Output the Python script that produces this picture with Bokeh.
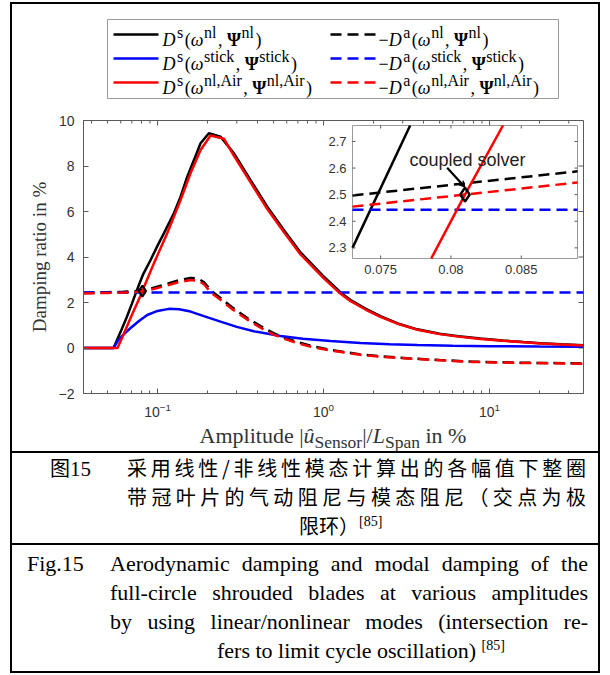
import numpy as np
from bokeh.plotting import figure
from bokeh.models import Range1d, LinearScale, FixedTicker, Label, Arrow, VeeHead, Div, Spacer
from bokeh.layouts import column, row
from bokeh.core.properties import value
from bokeh.embed import file_html
from bokeh.resources import INLINE

# ---------------- data ----------------
X_DS_NL = [0.0358, 0.0543, 0.0600, 0.0650, 0.0700, 0.0730, 0.0771, 0.0820, 0.0908, 0.1000,
           0.1091, 0.1254, 0.1376, 0.1510, 0.1656, 0.1816, 0.2037, 0.2395, 0.2880, 0.3633,
           0.4580, 0.5765, 0.7265, 1.000, 1.266, 1.455, 1.80, 2.20, 2.80, 3.67,
           5.0, 6.5, 8.83, 12.0, 16.0, 20.3, 27.0, 36.8]
Y_DS_NL = [0.0, 0.0, 0.72, 1.33, 1.94, 2.30, 2.76, 3.25, 3.87, 4.50,
           5.04, 5.92, 6.65, 7.53, 8.26, 9.00, 9.44, 9.29, 8.56, 7.38,
           6.21, 5.19, 4.20, 3.15, 2.44, 2.11, 1.72, 1.40, 1.08, 0.82,
           0.63, 0.52, 0.42, 0.33, 0.26, 0.21, 0.16, 0.12]

X_DS_AIR = [0.0358, 0.0574, 0.0620, 0.0700, 0.0786, 0.0810, 0.0837, 0.0950, 0.1143, 0.1376,
            0.1580, 0.1816, 0.2086, 0.2509, 0.2880, 0.3633, 0.4580, 0.5765, 0.7265, 1.000,
            1.266, 1.455, 1.80, 2.20, 2.80, 3.67, 5.0, 6.5, 8.83, 12.0,
            16.0, 20.3, 27.0, 36.8]
Y_DS_AIR = [0.0, 0.0, 0.55, 1.45, 2.26, 2.50, 2.76, 3.72, 5.04, 6.50,
            7.68, 8.70, 9.34, 9.20, 8.46, 7.28, 6.11, 5.10, 4.11, 3.07,
            2.38, 2.06, 1.68, 1.37, 1.06, 0.80, 0.61, 0.50, 0.40, 0.32,
            0.25, 0.20, 0.15, 0.11]

X_DS_STICK = [0.0358, 0.0543, 0.0580, 0.0625, 0.0688, 0.0776, 0.0867, 0.1000, 0.1170, 0.1350,
              0.1580, 0.1900, 0.2395, 0.3000, 0.3800, 0.5500, 0.7500, 1.100, 1.670, 2.500,
              3.670, 6.00, 10.0, 20.0, 36.8]
Y_DS_STICK = [0.0, 0.0, 0.35, 0.60, 0.88, 1.20, 1.45, 1.63, 1.72, 1.70,
              1.60, 1.40, 1.16, 0.93, 0.74, 0.53, 0.41, 0.31, 0.22, 0.16,
              0.13, 0.10, 0.08, 0.065, 0.055]

X_DA = [0.0358, 0.0500, 0.0620, 0.0730, 0.0894, 0.1091, 0.1300, 0.1580, 0.1750, 0.1900,
        0.2100, 0.2395, 0.2800, 0.3470, 0.4200, 0.5000, 0.6000, 0.6940, 0.8500, 1.100,
        1.400, 1.670, 2.200, 3.200, 5.000, 8.000, 14.00, 22.00, 36.8]
Y_DA_NL = [2.43, 2.455, 2.47, 2.497, 2.59, 2.77, 2.95, 3.08, 3.05, 2.90,
           2.52, 2.20, 1.80, 1.32, 0.95, 0.65, 0.42, 0.27, 0.08, -0.08,
           -0.20, -0.28, -0.36, -0.45, -0.53, -0.60, -0.64, -0.66, -0.68]
Y_DA_AIR = [2.40, 2.42, 2.435, 2.455, 2.548, 2.71, 2.87, 2.99, 2.96, 2.81,
            2.43, 2.12, 1.72, 1.25, 0.88, 0.59, 0.37, 0.22, 0.04, -0.11,
            -0.22, -0.30, -0.38, -0.46, -0.54, -0.61, -0.65, -0.67, -0.69]

X_DA_STICK = [0.0358, 36.8]
Y_DA_STICK = [2.443, 2.443]

LCO_X = [0.081]
LCO_Y = [2.50]

X_RANGE = (0.0358, 36.8)
Y_RANGE = (-2.0, 10.0)
X_TICKS = [0.1, 1.0, 10.0]
X_MINOR = [k * 10.0 ** e for e in (-2, -1, 0, 1) for k in range(2, 10)
           if X_RANGE[0] <= k * 10.0 ** e <= X_RANGE[1]]
Y_TICKS = [-2, 0, 2, 4, 6, 8, 10]

INSET_X = (0.073, 0.089)
INSET_Y = (2.26, 2.76)
INSET_XT = [0.075, 0.08, 0.085]
INSET_XT_LAB = ["0.075", "0.08", "0.085"]
INSET_YT = [2.3, 2.4, 2.5, 2.6, 2.7]
INSET_YT_LAB = ["2.3", "2.4", "2.5", "2.6", "2.7"]

LEGEND_SUPS = ["nl", "stick", "nl,Air"]
COLORS = ["#000000", "#0000ff", "#ff0000"]

# ---------------- layout constants (page pixels) ----------------
IN_L, IN_R = 12, 598          # inner area between the side rules
FL, FR, FT, FB = 83, 583, 120, 393   # main frame
IL, IR, IT, IB = 352, 577, 125, 258  # inset frame
TOP_Y0, MAIN_Y0 = 4, 110             # page y where legend canvas / main canvas start
MAIN_H = 317                          # main canvas height (110 .. 427)
AX = "#5a5a5a"
LW = 2.5
DASH = "11 6"

# ---------------- main figure ----------------
main = figure(width=IN_R - IN_L, height=MAIN_H, x_axis_type="log",
              x_range=Range1d(*X_RANGE), y_range=Range1d(*Y_RANGE),
              min_border_left=FL - IN_L, min_border_right=IN_R - FR,
              min_border_top=FT - MAIN_Y0, min_border_bottom=MAIN_Y0 + MAIN_H - FB,
              title=None, output_backend="svg", toolbar_location=None)
main.grid.visible = False
main.outline_line_color = AX
main.background_fill_color = "white"

xa = main.xaxis[0]
xa.ticker = FixedTicker(ticks=X_TICKS, minor_ticks=X_MINOR)
ya = main.yaxis[0]
ya.ticker = FixedTicker(ticks=Y_TICKS, minor_ticks=[])
for ax in (xa, ya):
    ax.axis_line_color = AX
    ax.major_tick_line_color = AX
    ax.minor_tick_line_color = AX
    ax.major_tick_in = 5
    ax.major_tick_out = 0
    ax.minor_tick_in = 3
    ax.minor_tick_out = 0
    ax.major_label_text_font = "Liberation Sans"
    ax.major_label_text_font_size = "14px"
    ax.major_label_text_color = "#333333"
xa.major_label_standoff = 9
ya.major_label_standoff = 9
ya.axis_label = "Damping ratio in %"
ya.axis_label_text_font = "Liberation Serif"
ya.axis_label_text_font_size = "19px"
ya.axis_label_text_font_style = "normal"
ya.axis_label_text_color = "#333333"
ya.axis_label_standoff = 6

# box ticks on top and right (inside)
ky_main = (Y_RANGE[1] - Y_RANGE[0]) / (FB - FT)
decade_px = (FR - FL) / np.log10(X_RANGE[1] / X_RANGE[0])
main.segment(x0=X_TICKS, y0=[Y_RANGE[1]] * len(X_TICKS), x1=X_TICKS,
             y1=[Y_RANGE[1] - 5 * ky_main] * len(X_TICKS), line_color=AX, line_width=1)
main.segment(x0=X_MINOR, y0=[Y_RANGE[1]] * len(X_MINOR), x1=X_MINOR,
             y1=[Y_RANGE[1] - 3 * ky_main] * len(X_MINOR), line_color=AX, line_width=1)
xr1 = X_RANGE[1] * 10 ** (-5 / decade_px)
main.segment(x0=[X_RANGE[1]] * len(Y_TICKS), y0=Y_TICKS, x1=[xr1] * len(Y_TICKS), y1=Y_TICKS,
             line_color=AX, line_width=1)

SERIES = [
    (X_DS_NL, Y_DS_NL, COLORS[0], "solid"),
    (X_DA, Y_DA_NL, COLORS[0], DASH),
    (X_DS_STICK, Y_DS_STICK, COLORS[1], "solid"),
    (X_DA_STICK, Y_DA_STICK, COLORS[1], DASH),
    (X_DS_AIR, Y_DS_AIR, COLORS[2], "solid"),
    (X_DA, Y_DA_AIR, COLORS[2], DASH),
]
for xs, ys, c, d in SERIES:
    main.line(xs, ys, line_color=c, line_width=LW, line_dash=d)
main.scatter(LCO_X, LCO_Y, marker="diamond", size=11, fill_color=None,
             line_color="black", line_width=2)

# ---------------- inset (extra linear ranges mapped onto a sub-rectangle) ----------------
kx = (INSET_X[1] - INSET_X[0]) / (IR - IL)
ky = (INSET_Y[1] - INSET_Y[0]) / (IB - IT)
main.extra_x_ranges = {"ix": Range1d(INSET_X[0] - (IL - FL) * kx, INSET_X[1] + (FR - IR) * kx)}
main.extra_x_scales = {"ix": LinearScale()}
main.extra_y_ranges = {"iy": Range1d(INSET_Y[0] - (FB - IB) * ky, INSET_Y[1] + (IT - FT) * ky)}
main.extra_y_scales = {"iy": LinearScale()}
IK = dict(x_range_name="ix", y_range_name="iy")

main.quad(left=[INSET_X[0]], right=[INSET_X[1]], bottom=[INSET_Y[0]], top=[INSET_Y[1]],
          fill_color="white", line_color="#9a9a9a", line_width=1, level="annotation", **IK)


def clip_poly(xs, ys, x0, x1, y0, y1):
    ox, oy = [], []
    for i in range(len(xs) - 1):
        ax_, ay_, bx_, by_ = xs[i], ys[i], xs[i + 1], ys[i + 1]
        dx, dy = bx_ - ax_, by_ - ay_
        t0, t1, ok = 0.0, 1.0, True
        for pp, qq in ((-dx, ax_ - x0), (dx, x1 - ax_), (-dy, ay_ - y0), (dy, y1 - ay_)):
            if pp == 0:
                if qq < 0:
                    ok = False
                    break
            else:
                r = qq / pp
                if pp < 0:
                    if r > t1:
                        ok = False
                        break
                    t0 = max(t0, r)
                else:
                    if r < t0:
                        ok = False
                        break
                    t1 = min(t1, r)
        if not ok or t1 <= t0:
            continue
        sx, sy = ax_ + t0 * dx, ay_ + t0 * dy
        ex, ey = ax_ + t1 * dx, ay_ + t1 * dy
        if ox and abs(ox[-1] - sx) < 1e-12 and abs(oy[-1] - sy) < 1e-12:
            ox.append(ex)
            oy.append(ey)
        else:
            if ox:
                ox.append(np.nan)
                oy.append(np.nan)
            ox += [sx, ex]
            oy += [sy, ey]
    return ox, oy


for xs, ys, c, d in SERIES:
    cx, cy = clip_poly(xs, ys, INSET_X[0], INSET_X[1], INSET_Y[0], INSET_Y[1])
    if cx:
        main.line(cx, cy, line_color=c, line_width=LW, line_dash=d, level="overlay", **IK)

# inset ticks
tlx, tly = 3 * kx, 3 * ky
n = len(INSET_YT)
main.segment(x0=[INSET_X[0]] * n, y0=INSET_YT, x1=[INSET_X[0] + tlx] * n, y1=INSET_YT,
             line_color=AX, level="overlay", **IK)
main.segment(x0=[INSET_X[1]] * n, y0=INSET_YT, x1=[INSET_X[1] - tlx] * n, y1=INSET_YT,
             line_color=AX, level="overlay", **IK)
m = len(INSET_XT)
main.segment(x0=INSET_XT, y0=[INSET_Y[0]] * m, x1=INSET_XT, y1=[INSET_Y[0] + tly] * m,
             line_color=AX, level="overlay", **IK)
main.segment(x0=INSET_XT, y0=[INSET_Y[1]] * m, x1=INSET_XT, y1=[INSET_Y[1] - tly] * m,
             line_color=AX, level="overlay", **IK)
main.text(x=[INSET_X[0] - 6 * kx] * n, y=INSET_YT, text=INSET_YT_LAB, text_align="right",
          text_baseline="middle", text_font=value("Liberation Sans"), text_font_size="13px",
          text_color="#333333", level="overlay", **IK)
main.text(x=INSET_XT, y=[INSET_Y[0] - 6 * ky] * m, text=INSET_XT_LAB, text_align="center",
          text_baseline="top", text_font=value("Liberation Sans"), text_font_size="13px",
          text_color="#333333", level="overlay", **IK)

main.scatter(LCO_X, LCO_Y, marker="diamond", size=14, fill_color=None, line_color="black",
             line_width=2.5, level="overlay", **IK)
main.add_layout(Arrow(end=VeeHead(size=6, line_color="black", fill_color="black", line_width=1),
                      x_start=0.07973, y_start=2.601, x_end=0.0810, y_end=2.528,
                      line_color="black", line_width=2.2, level="overlay", **IK))
main.text(x=[0.08118], y=[2.632], text=["coupled solver"], text_align="center",
          text_baseline="middle", text_font=value("Liberation Sans"), text_font_size="18px",
          text_color="#222222", level="overlay", **IK)

# ---------------- legend figure (frame aligned with the main frame, page-pixel units) ----------------
top = figure(width=IN_R - IN_L, height=MAIN_Y0 - TOP_Y0,
             x_range=Range1d(FL, FR), y_range=Range1d(MAIN_Y0, TOP_Y0),
             min_border_left=FL - IN_L, min_border_right=IN_R - FR,
             min_border_top=0, min_border_bottom=0,
             x_axis_location=None, y_axis_location=None, title=None,
             output_backend="svg", toolbar_location=None)
top.grid.visible = False
top.outline_line_color = None
top.quad(left=[107], right=[558], top=[19], bottom=[98], fill_color="white",
         line_color="#9a9a9a", line_width=1)

BASE, SUP, RAISE, SUPGAP = 18, 16, 7, 1.5
REG = {' ': 0.25, '(': 0.333, ')': 0.333, ',': 0.25, '\u2212': 0.564, 'n': 0.5, 'l': 0.278,
       's': 0.389, 't': 0.278, 'i': 0.278, 'c': 0.444, 'k': 0.5, 'A': 0.722, 'r': 0.333, 'a': 0.444}
ITA = {'D': 0.722, '\u03c9': 0.66}
BLD = {'\u03a8': 0.80}


def seg_w(t, st):
    if st == "u":
        return sum(REG[ch] for ch in t) * SUP + SUPGAP
    tab = ITA if st == "i" else BLD if st == "b" else REG
    return sum(tab[ch] for ch in t) * BASE


def rich(fig, x, y, segs):
    cx = x
    prev = None
    for t, st in segs:
        if st == "u" and prev == "i":
            cx += 1.5
        size = SUP if st == "u" else BASE
        fig.add_layout(Label(x=cx, y=y - (RAISE if st == "u" else 0), text=t,
                             text_font="Liberation Serif", text_font_size=f"{size}px",
                             text_font_style={"i": "italic", "b": "bold"}.get(st, "normal"),
                             text_align="left", text_baseline="alphabetic", text_color="black"))
        cx += seg_w(t, st)
        prev = st


ROW_Y = [39, 63, 87]
for k, (sup, col) in enumerate(zip(LEGEND_SUPS, COLORS)):
    yb = ROW_Y[k]
    top.segment(x0=[113], y0=[yb - 5], x1=[158], y1=[yb - 5], line_color=col, line_width=LW)
    top.segment(x0=[330], y0=[yb - 5], x1=[375], y1=[yb - 5], line_color=col, line_width=LW,
                line_dash=DASH)
    body = [("(", "r"), ("\u03c9", "i"), (sup, "u"), (",", "r"), (" ", "r"), ("\u03a8", "b"),
            (sup, "u"), (")", "r")]
    rich(top, 162, yb, [("D", "i"), ("s", "u")] + body)
    rich(top, 378, yb, [("\u2212", "r"), ("D", "i"), ("a", "u")] + body)

# ---------------- text blocks ----------------
xlab_html = (
    '<div style="position:relative;width:586px;height:24px;">'
    '<div style="position:absolute;left:71px;top:-2px;width:500px;text-align:center;white-space:nowrap;'
    "font-family:'Liberation Serif';font-size:22px;line-height:22px;color:#333;\">"
    'Amplitude |<i>\u00fb</i><sub style="font-size:17.5px;vertical-align:-5px;line-height:0;">Sensor</sub>|/'
    '<i>L</i><sub style="font-size:17.5px;vertical-align:-5px;line-height:0;">Span</sub> in %</div></div>')

J = 'text-align:justify;text-align-last:justify;'
CJK = "font-family:'Noto Sans CJK SC';font-size:20px;line-height:29px;"
zh_html = (
    '<div style="position:relative;width:586px;height:90px;color:#000;">'
    f'<div style="position:absolute;left:38px;top:0px;{CJK}">'
    "\u56fe<span style=\"font-family:'Liberation Serif';font-size:21px;\">15</span></div>"
    f'<div style="position:absolute;left:115px;top:0px;width:459px;{CJK}">'
    f'<div style="{J}">采用线性/非线性模态计算出的各幅值下整圈</div>'
    f'<div style="{J}">带冠叶片的气动阻尼与模态阻尼（交点为极</div>'
    '<div style="padding-left:172px;">限环）<sup style="font-family:\'Liberation Serif\';font-size:14px;'
    'vertical-align:8px;line-height:0;">[85]</sup></div>'
    '</div></div>')

en_html = (
    "<div style=\"position:relative;width:586px;height:126px;font-family:'Liberation Serif';"
    'font-size:22px;line-height:29px;color:#000;">'
    '<div style="position:absolute;left:15px;top:4px;">Fig.15</div>'
    '<div style="position:absolute;left:98px;top:4px;width:478px;">'
    f'<div style="{J}">Aerodynamic damping and modal damping of the</div>'
    f'<div style="{J}">full-circle shrouded blades at various amplitudes</div>'
    f'<div style="{J}">by using linear/nonlinear modes (intersection re-</div>'
    '<div style="padding-left:107px;">fers to limit cycle oscillation) <sup style="font-size:14px;'
    'vertical-align:8px;line-height:0;">[85]</sup></div>'
    '</div></div>')

BLK = {"background-color": "#000000"}
xlab = Div(text=xlab_html, width=586, height=24, margin=(0, 0, 0, 0))
zh = Div(text=zh_html, width=586, height=90, margin=(0, 0, 0, 0))
en = Div(text=en_html, width=586, height=126, margin=(0, 0, 0, 0))

inner = column(top, main, xlab,
               Spacer(width=586, height=2, styles=BLK), zh,
               Spacer(width=586, height=2, styles=BLK), en, spacing=0)
INNER_H = (MAIN_Y0 - TOP_Y0) + MAIN_H + 24 + 2 + 90 + 2 + 126

page = column(
    Spacer(width=600, height=2),
    row(Spacer(width=10, height=2), Spacer(width=590, height=2, styles=BLK), spacing=0),
    row(Spacer(width=10, height=INNER_H), Spacer(width=2, height=INNER_H, styles=BLK), inner,
        Spacer(width=2, height=INNER_H, styles=BLK), spacing=0),
    row(Spacer(width=10, height=2), Spacer(width=590, height=2, styles=BLK), spacing=0),
    spacing=0)

open("out.html", "w").write(file_html(page, INLINE))
